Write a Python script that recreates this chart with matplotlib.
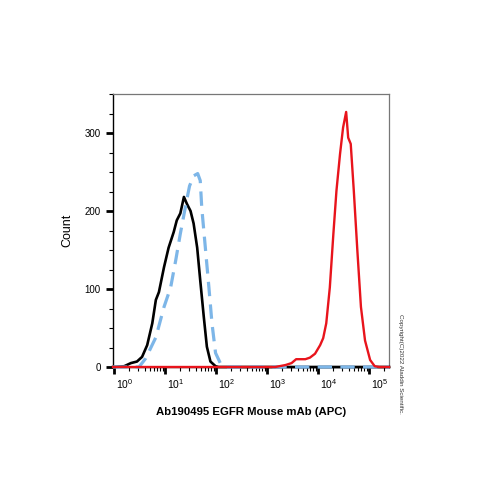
#!/usr/bin/env python3

import numpy as np
import matplotlib
matplotlib.use("Agg")
import matplotlib.pyplot as plt
import matplotlib.transforms as mtransforms
from matplotlib.ticker import FixedLocator, MultipleLocator, LogLocator, NullFormatter

plt.rcParams['font.family'] = ['Liberation Sans', 'DejaVu Sans']
plt.rcParams['mathtext.fontset'] = 'custom'
plt.rcParams['mathtext.rm'] = 'Liberation Sans'

# histogram traces, x given as log10(fluorescence)
black_logx = [-0.02, 0.20, 0.33, 0.45, 0.55, 0.65, 0.75, 0.82, 0.88, 0.98, 1.07, 1.17, 1.23,
              1.30, 1.37, 1.43, 1.50, 1.56, 1.63, 1.69, 1.76, 1.82, 1.89, 1.99, 2.05, 5.39]
black_count = [0, 1, 5, 7, 13, 28, 56, 86, 96, 128, 153, 173, 188,
               197, 218, 209, 200, 184, 153, 111, 64, 26, 7, 1, 0, 0]

blue_logx = [-0.02, 0.49, 0.62, 0.82, 0.98, 1.11, 1.21, 1.30, 1.41, 1.48, 1.56, 1.64, 1.69,
             1.72, 1.79, 1.86, 1.92, 1.99, 2.09, 2.19, 5.39]
blue_count = [0, 0, 11, 38, 77, 102, 137, 171, 209, 232, 245, 248, 239,
              204, 153, 102, 56, 18, 4, 0, 0]

red_logx = [-0.02, 3.16, 3.36, 3.48, 3.57, 3.75, 3.84, 3.94, 4.04, 4.10, 4.16, 4.23, 4.30,
            4.36, 4.43, 4.49, 4.55, 4.59, 4.64, 4.70, 4.77, 4.84, 4.92, 5.02, 5.11, 5.20, 5.39]
red_count = [0, 0, 2.5, 5, 10, 10, 12, 17, 28, 37, 56, 102, 171,
             226, 273, 307, 327, 294, 286, 226, 149, 77, 34, 9, 1, 0, 0]

decades = [0, 1, 2, 3, 4, 5]
xlabel = "Ab190495 EGFR Mouse mAb (APC)"
ylabel = "Count"
copyright_text = "Copyright(C)2022 Aladdin Scientific."

fig = plt.figure(figsize=(5, 5), dpi=100)
ax = fig.add_axes([0.226, 0.266, 0.552, 0.546])

ax.plot(10 ** np.array(black_logx), black_count, color='black', linewidth=1.9, clip_on=False, zorder=3)
ax.plot(10 ** np.array(blue_logx), blue_count, color='#7db6e8', linewidth=2.3,
        linestyle=(0, (4.5, 2.6)), clip_on=False, zorder=4)
ax.plot(10 ** np.array(red_logx), red_count, color='#e8141c', linewidth=1.7, clip_on=False, zorder=5)

ax.set_xscale('log')
ax.set_xlim(10 ** -0.02, 10 ** 5.39)
ax.set_ylim(0, 350)

ax.xaxis.set_major_locator(FixedLocator([10 ** d for d in decades]))
ax.set_xticklabels([r"$10^{%d}$" % d for d in decades])
ax.xaxis.set_minor_locator(LogLocator(base=10, subs=np.arange(2, 10), numticks=20))
ax.xaxis.set_minor_formatter(NullFormatter())

ax.yaxis.set_major_locator(MultipleLocator(100))
ax.yaxis.set_minor_locator(MultipleLocator(25))

ax.tick_params(axis='both', which='major', direction='out', length=5, width=2, labelsize=7.5)
ax.tick_params(axis='both', which='minor', direction='out', length=3, width=0.8)
ax.tick_params(axis='x', which='major', pad=2)
ax.tick_params(axis='y', which='major', labelsize=7, pad=4)

offset = mtransforms.ScaledTranslation(11 / 100, 0, fig.dpi_scale_trans)
for lab in ax.get_xticklabels():
    lab.set_transform(lab.get_transform() + offset)

for side in ['top', 'right']:
    ax.spines[side].set_color('#777777')
    ax.spines[side].set_linewidth(0.9)
for side in ['left', 'bottom']:
    ax.spines[side].set_linewidth(1.0)

ax.set_xlabel(xlabel, fontsize=8.2, fontweight='bold', labelpad=12)
ax.set_ylabel(ylabel, fontsize=9, labelpad=8)

fig.text(0.802, 0.272, copyright_text, rotation=270, fontsize=4.5, ha='center', va='center',
         color='#333333')

plt.savefig("out.png", dpi=100)
